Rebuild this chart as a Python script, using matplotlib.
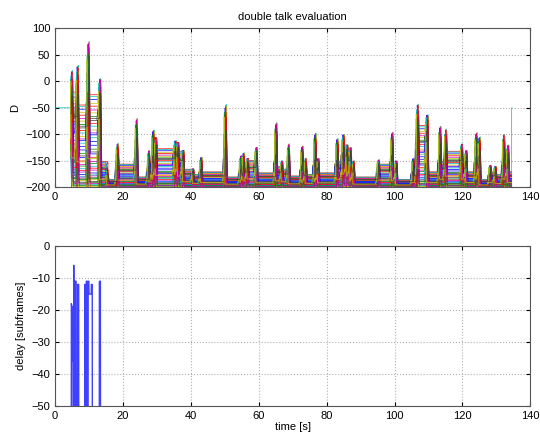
import numpy as np
import matplotlib.pyplot as plt

plt.rcParams['font.family'] = ['Liberation Sans', 'DejaVu Sans']

# --- top panel: D per candidate delay ---
# burst centre [s], peak value of D, top of the flat band that follows
burst_t = [4.8, 6.5, 9.7, 13.1, 15.3, 18.3, 23.9, 27.5, 28.8, 29.6,
           35.3, 36.1, 37.6, 40.5, 42.9, 50.1, 54.6, 55.4, 56.6, 59.2,
           65.0, 66.7, 68.7, 72.7, 73.7, 76.5, 77.4, 83.0, 84.8, 85.9,
           86.9, 87.8, 95.2, 99.2, 100.4, 105.4, 106.7, 109.5, 113.3, 115.0,
           119.7, 121.0, 124.0, 124.9, 128.1, 129.6, 132.1, 133.3]
burst_peak = [20, 30, 75, 5, -175, -117, -70, -130, -92, -105,
              -112, -115, -130, -165, -143, -44, -140, -135, -145, -124,
              -78, -150, -118, -122, -145, -98, -145, -108, -100, -120,
              -125, -150, -148, -96, -150, -145, -43, -63, -85, -90,
              -118, -130, -97, -105, -158, -160, -100, -120]
hold_top = [-15, -40, -20, -150, -185, -155, -180, -165, -150, -125,
            -120, -130, -165, -175, -170, -180, -170, -160, -148, -172,
            -160, -165, -178, -170, -175, -165, -172, -150, -118, -130,
            -160, -180, -155, -160, -185, -170, -80, -170, -150, -130,
            -150, -170, -150, -185, -170, -175, -150, -170]
start_t = 4.6
end_t = 134.5

# where each curve sits inside the flat bands and how far it climbs in a burst
line_level = [0.92, 0.05, 0.31, 0.64, 0.12, 0.78, -0.05, 0.48, 0.02, 0.85,
              0.22, 0.57, 0.08, 0.70, 0.15, 0.40, 0.97, 0.03, 0.27, 0.60,
              0.10, 0.35, 0.74, 0.00, 0.52, 0.18, 0.88, 0.06, 0.44, 0.25,
              0.67, 0.13, 0.81, 0.01, 0.37, 0.55, 0.09, 0.20, 0.95, 0.04,
              0.30, 0.72]
line_reach = [0.95, 0.40, 0.70, 1.00, 0.55, 0.85, 0.30, 0.65, 0.90, 0.45,
              0.80, 0.60, 0.98, 0.35, 0.75, 0.50, 0.88, 0.25, 0.68, 0.93,
              0.42, 0.78, 0.58, 0.99, 0.33, 0.72, 0.48, 0.86, 0.62, 0.38,
              0.82, 0.52, 0.96, 0.28, 0.66, 0.44, 0.91, 0.56, 0.76, 0.36,
              0.84, 0.64]
spike_shift = [0.0, 0.22, -0.2, 0.35, -0.3, 0.15, -0.1, 0.3, -0.25]
rise_len = [0.3, 0.18, 0.5, 0.25, 0.42, 0.15, 0.36, 0.55, 0.2, 0.33, 0.27]
fall_len = [0.25, 0.42, 0.18, 0.5, 0.3, 0.36, 0.15, 0.27, 0.45, 0.2]
shoulder = [0.3, 0.7, 0.5, 0.85, 0.2, 0.6]

# --- bottom panel: estimated delay ---
delay_t = [4.75, 4.8, 4.95, 5.05, 5.15, 5.25, 5.35, 5.45, 5.5, 5.6, 5.7,
           5.85, 5.9, 6.2, 6.25, 6.6, 6.65, 6.95, 7.0, 8.7, 8.75, 8.95, 9.0,
           9.15, 9.2, 9.45, 9.5, 9.7, 9.75, 9.95, 10.0, 10.65, 10.7, 10.95,
           11.0, 13.0, 13.05, 13.35, 13.4]
delay_v = [-100, -18, -19, -36, -19, -28, -100, -100, -6, -28, -100,
           -100, -11, -11, -100, -100, -12, -12, -100, -100, -12, -12, -100,
           -100, -11, -11, -100, -100, -11, -11, -15, -15, -12, -12,
           -100, -100, -11, -11, -100]

matlab_colors = [(0, 0, 1), (0, 0.5, 0), (1, 0, 0), (0, 0.75, 0.75),
                 (0.75, 0, 0.75), (0.75, 0.75, 0), (0.25, 0.25, 0.25)]

fig = plt.figure(figsize=(5.4, 4.37), dpi=100)
ax1 = fig.add_axes([0.102, 0.5714, 0.88, 0.364])
ax2 = fig.add_axes([0.102, 0.0709, 0.88, 0.366])

for k, (f, g) in enumerate(zip(line_level, line_reach)):
    shift = spike_shift[k % len(spike_shift)]
    rise = rise_len[k % len(rise_len)]
    fall = fall_len[k % len(fall_len)]
    sh = shoulder[k % len(shoulder)]
    hold = -140 + 110 * f
    xs = [start_t]
    ys = [hold]
    if k == 3:
        xs = [0, start_t]
        ys = [-50, -50]
    for t, peak, top in zip(burst_t, burst_peak, hold_top):
        new_hold = -200 + (top + 200) * f
        base = max(hold, new_hold)
        p = base + (peak - base) * g
        tp = t + shift
        pts = [(tp - rise, hold),
               (tp - rise * 0.5, hold + (p - hold) * sh),
               (tp - rise * 0.3, hold + (p - hold) * sh * 0.6),
               (tp, p),
               (tp + fall * 0.5, new_hold + (p - new_hold) * (1 - sh)),
               (tp + fall, new_hold)]
        for x, y in pts:
            xs.append(max(x, xs[-1]))
            ys.append(y)
        hold = new_hold
    xs.append(end_t)
    ys.append(hold)
    if k == 3:
        xs += [end_t, end_t + 0.1]
        ys += [-50, -50]
    ax1.plot(xs, ys, color=matlab_colors[k % 7], lw=0.6, alpha=0.85)

ax2.plot(delay_t, delay_v, color=(0.25, 0.25, 1.0), lw=1.0)

for ax in (ax1, ax2):
    ax.set_xlim(0, 140)
    ax.set_xticks(np.arange(0, 141, 20))
    ax.grid(True, color='#b0b0b0', linestyle=':', linewidth=0.8)
    ax.tick_params(direction='in', top=True, right=True, labelsize=8, length=3)
    for s in ax.spines.values():
        s.set_color('#555555')
        s.set_linewidth(0.8)

ax1.set_ylim(-200, 100)
ax1.set_yticks(np.arange(-200, 101, 50))
ax1.set_ylabel('D', fontsize=8)
ax1.set_title('double talk evaluation', fontsize=8)

ax2.set_ylim(-50, 0)
ax2.set_yticks(np.arange(-50, 1, 10))
ax2.set_ylabel('delay [subframes]', fontsize=8)
ax2.set_xlabel('time [s]', fontsize=8, labelpad=1)

fig.savefig('out.png', dpi=100)
